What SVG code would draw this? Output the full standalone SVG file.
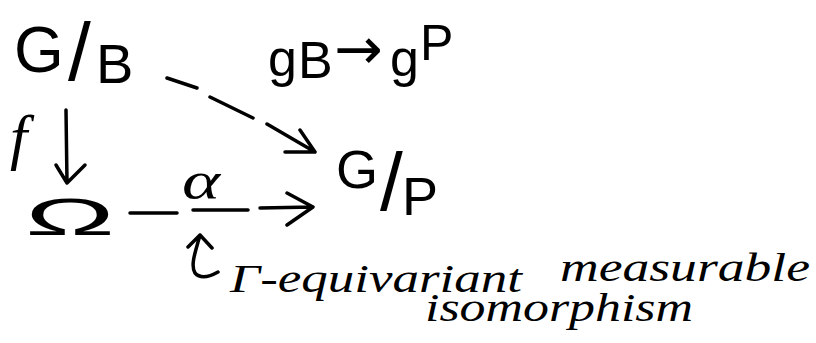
<svg xmlns="http://www.w3.org/2000/svg" width="816" height="343" viewBox="0 0 816 343">
<style>
.s{font-family:"Liberation Sans","DejaVu Sans",sans-serif;fill:#000}
.h{font-family:"Liberation Serif","DejaVu Serif",serif;font-style:italic;fill:#000}
.c{fill:none;stroke:#000;stroke-width:3.5;stroke-linecap:round;stroke-linejoin:round}
</style>
<rect width="816" height="343" fill="#fff"/>
<g id="node-GB">
<text class="s"><tspan x="14" y="72" font-size="64">G</tspan><tspan x="68" y="80" font-size="82">/</tspan><tspan x="96" y="83" font-size="56">B</tspan></text>
</g>
<g id="node-gBgP">
<text class="s"><tspan x="268" y="76" font-size="52">g</tspan><tspan x="298" y="78" font-size="52">B</tspan><tspan x="334" y="69" font-size="58" font-family="DejaVu Sans">→</tspan><tspan x="390" y="76" font-size="52">g</tspan><tspan x="420" y="60" font-size="50">P</tspan></text>
</g>
<g id="node-f">
<text class="h" x="10" y="158" font-size="62">f</text>
</g>
<g id="node-Omega">
<text class="s" x="25" y="235" font-size="52" textLength="90" lengthAdjust="spacingAndGlyphs">Ω</text>
</g>
<g id="node-alpha">
<text class="h" x="182" y="198" font-size="52" textLength="38" lengthAdjust="spacingAndGlyphs">α</text>
</g>
<g id="node-GP">
<text class="s"><tspan x="336" y="188" font-size="54">G</tspan><tspan x="380" y="210" font-size="82">/</tspan><tspan x="402" y="215" font-size="54">P</tspan></text>
</g>
<g id="node-label">
<text class="h" font-size="40"><tspan x="230" y="292" textLength="292" lengthAdjust="spacingAndGlyphs">Γ-equivariant</tspan><tspan x="560" y="281" textLength="250" lengthAdjust="spacingAndGlyphs">measurable</tspan><tspan x="425" y="321" textLength="268" lengthAdjust="spacingAndGlyphs">isomorphism</tspan></text>
</g>
<g id="connectors">
<path class="c" d="M66,110 L67,183 M56,165 L67,183 L85,165"/>
<path class="c" d="M130,213 L177,213 M193,210 L248,210 M260,208 L313,207 M287,193 L313,207 L287,225"/>
<path class="c" d="M167,78 L197,88 M210,97 L253,118 M267,124 L315,152 M300,130 L315,152 L285,152"/>
<path class="c" d="M200,235 C196,250 190,265 195,273 Q202,281 218,272 M188,247 L200,235 L212,248"/>
</g>
</svg>
